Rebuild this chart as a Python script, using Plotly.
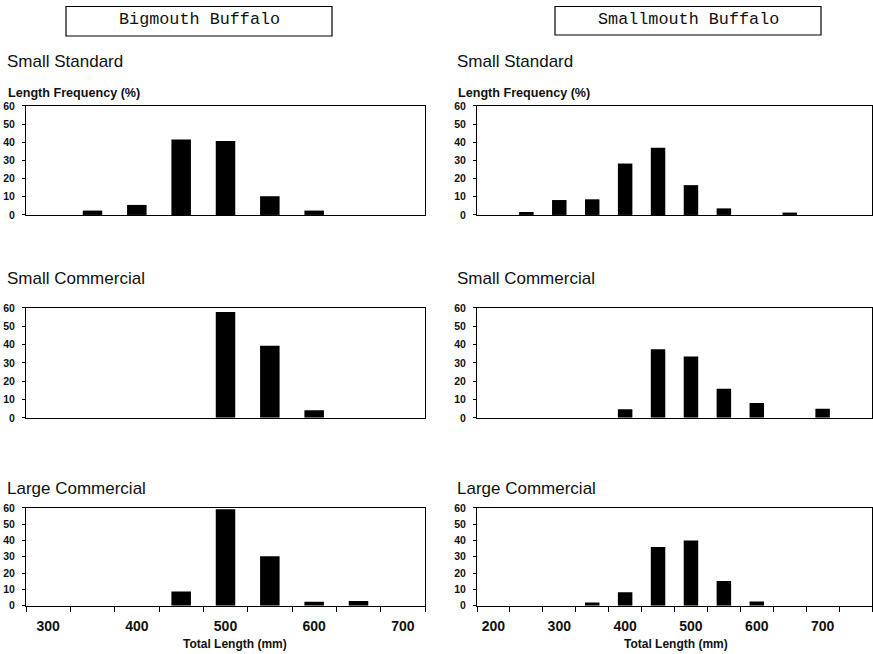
import plotly.graph_objects as go

W, H = 873, 654

# ---------------- data ----------------
bm_lengths = [300, 350, 400, 450, 500, 550, 600, 650, 700]
bm_small_standard = [0, 2.4, 5.5, 41.5, 40.7, 10.3, 2.4, 0, 0]
bm_small_commercial = [0, 0, 0, 0, 57.8, 39.3, 4.2, 0, 0]
bm_large_commercial = [0, 0, 0, 8.7, 59.2, 30.3, 2.5, 2.9, 0]

sm_lengths = [200, 250, 300, 350, 400, 450, 500, 550, 600, 650, 700, 750]
sm_small_standard = [0, 1.6, 8.2, 8.6, 28.3, 37.0, 16.4, 3.6, 0, 1.3, 0, 0]
sm_small_commercial = [0, 0, 0, 0, 4.7, 37.4, 33.5, 15.9, 8.1, 0, 4.9, 0]
sm_large_commercial = [0, 0, 0, 2.0, 8.3, 36.0, 40.0, 15.2, 2.6, 0, 0, 0]

bm_xticks = [300, 400, 500, 600, 700]
sm_xticks = [200, 300, 400, 500, 600, 700]
y_ticks = [0, 10, 20, 30, 40, 50, 60]

species = ["Bigmouth Buffalo", "Smallmouth Buffalo"]
panel_titles = ["Small Standard", "Small Commercial", "Large Commercial"]
y_title = "Length Frequency (%)"
x_title = "Total Length (mm)"

# ---------------- layout helpers ----------------
def px_x(p):
    return p / W

def px_y(p):
    # vertical pixel target -> paper coordinate (compensates the viewer's vertical fit)
    q = (p - 6) / 0.982
    return 1 - q / H

col_dom = [(26, 425), (477, 872)]
row_dom = [(106, 215), (308, 418), (508, 606)]
col_range = [(275, 725), (175, 775)]

series = [
    [bm_small_standard, bm_small_commercial, bm_large_commercial],
    [sm_small_standard, sm_small_commercial, sm_large_commercial],
]
cats = [bm_lengths, sm_lengths]
xticks = [bm_xticks, sm_xticks]

fig = go.Figure()
layout = {}
ax_i = 0
for c in range(2):
    for r in range(3):
        ax_i += 1
        xa = "x" if ax_i == 1 else f"x{ax_i}"
        ya = "y" if ax_i == 1 else f"y{ax_i}"
        fig.add_trace(go.Bar(
            x=cats[c], y=series[c][r], xaxis=xa, yaxis=ya,
            width=22, marker=dict(color="#000000", line=dict(width=0)),
            showlegend=False, hoverinfo="x+y",
        ))
        bottom = (r == 2)
        layout["xaxis" if ax_i == 1 else f"xaxis{ax_i}"] = dict(
            domain=[px_x(col_dom[c][0]), px_x(col_dom[c][1])],
            anchor=ya, range=list(col_range[c]),
            tickmode="array", tickvals=xticks[c],
            showticklabels=bottom, ticks="", ticklabelstandoff=7,
            tickfont=dict(family="Liberation Sans", size=14, color="#111", weight="bold"),
            minor=dict(tick0=col_range[c][0], dtick=50, ticks="outside" if bottom else "",
                       ticklen=5, tickcolor="#000", showgrid=False),
            showline=True, linecolor="#000", linewidth=1, mirror=True,
            showgrid=False, zeroline=False, fixedrange=True,
        )
        layout["yaxis" if ax_i == 1 else f"yaxis{ax_i}"] = dict(
            domain=[px_y(row_dom[r][1]), px_y(row_dom[r][0])],
            anchor=xa, range=[0, 60], tickmode="array", tickvals=y_ticks,
            ticks="outside", ticklen=3, tickcolor="#000",
            ticklabelstandoff=5,
            tickfont=dict(family="Liberation Sans", size=10.5, color="#111", weight="bold"),
            showline=True, linecolor="#000", linewidth=1, mirror=True,
            showgrid=False, zeroline=False, fixedrange=True,
        )

annotations = []
shapes = []
# species boxes
box_px = [(66, 332, 6.5, 36), (555, 821, 6.5, 35)]
for c in range(2):
    x0, x1, y0, y1 = box_px[c]
    shapes.append(dict(type="rect", xref="paper", yref="paper",
                       x0=px_x(x0), x1=px_x(x1), y0=px_y(y1), y1=px_y(y0),
                       line=dict(color="#000", width=1.2), fillcolor="rgba(0,0,0,0)"))
    annotations.append(dict(text=species[c], xref="paper", yref="paper",
                            x=px_x((x0 + x1) / 2), y=px_y(20),
                            xanchor="center", yanchor="middle", showarrow=False,
                            font=dict(family="Liberation Mono", size=16.8, color="#111")))

title_left = [5, 455]
title_y = [62, 279, 489]
for c in range(2):
    for r in range(3):
        annotations.append(dict(text=panel_titles[r], xref="paper", yref="paper",
                                x=px_x(title_left[c]), y=px_y(title_y[r]),
                                xanchor="left", yanchor="middle", showarrow=False,
                                font=dict(family="Liberation Sans", size=17, color="#111")))
    annotations.append(dict(text=y_title, xref="paper", yref="paper",
                            x=px_x(title_left[c] + 1), y=px_y(93.5),
                            xanchor="left", yanchor="middle", showarrow=False,
                            font=dict(family="Liberation Sans", size=12.6, color="#111",
                                      weight="bold")))

x_title_cx = [235, 676]
for c in range(2):
    annotations.append(dict(text=x_title, xref="paper", yref="paper",
                            x=px_x(x_title_cx[c]), y=px_y(644),
                            xanchor="center", yanchor="middle", showarrow=False,
                            font=dict(family="Liberation Sans", size=12, color="#111",
                                      weight="bold")))

fig.update_layout(
    width=W, height=H, margin=dict(l=0, r=0, t=0, b=0),
    paper_bgcolor="white", plot_bgcolor="white",
    bargap=0.55, showlegend=False,
    annotations=annotations, shapes=shapes,
    **layout,
)

fig.write_html(
    "out.html",
    config={"displayModeBar": False},
    post_script=(
        "document.documentElement.style.margin='0';"
        "document.documentElement.style.overflow='hidden';"
        "document.body.style.margin='0';document.body.style.overflow='hidden';"
        "var d=document.getElementById('{plot_id}');"
        "d.style.position='fixed';d.style.top='0px';d.style.left='0px';"
    ),
)
